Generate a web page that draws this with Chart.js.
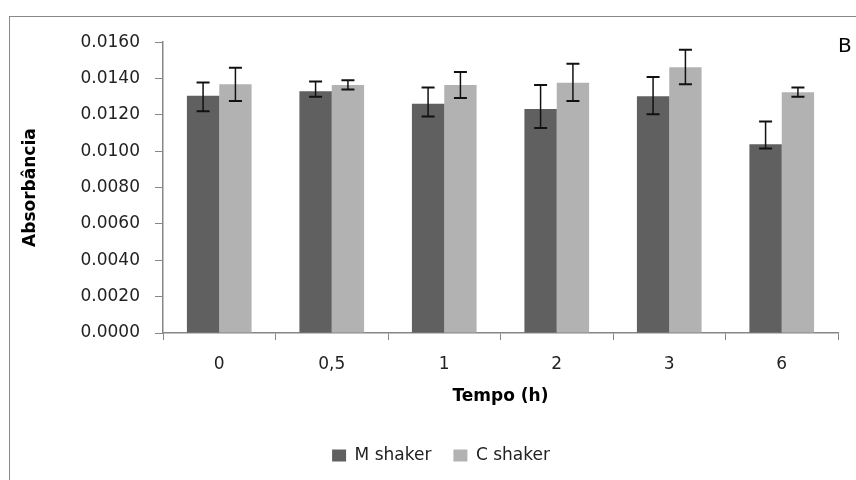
<!DOCTYPE html>
<html>
<head>
<meta charset="utf-8">
<script src="https://cdn.jsdelivr.net/npm/chart.js@4/dist/chart.umd.min.js"></script>
<style>
  html, body { margin: 0; padding: 0; background: #fff; width: 856px; height: 480px; overflow: hidden; }
  #frame { position: absolute; left: 9px; top: 16px; width: 864px; height: 472px;
           border-left: 1px solid #898989; border-top: 1px solid #898989; }
  canvas { display: block; }
</style>
</head>
<body>
<div id="frame"><canvas id="chart" width="864" height="472"></canvas></div>
<script>
// Tempo (h)
const categories = ['0', '0,5', '1', '2', '3', '6'];

// absorbância means
const mShaker = [0.01306, 0.01330, 0.01262, 0.01233, 0.01302, 0.01039];
const cShaker = [0.01369, 0.01364, 0.01364, 0.01377, 0.01462, 0.01324];

// error bars (above / below the mean)
const mErrUp   = [0.00072, 0.00054, 0.00089, 0.00131, 0.00107, 0.00125];
const mErrDown = [0.00086, 0.00030, 0.00071, 0.00105, 0.00098, 0.00024];
const cErrUp   = [0.00091, 0.00027, 0.00072, 0.00105, 0.00096, 0.00027];
const cErrDown = [0.00092, 0.00024, 0.00071, 0.00100, 0.00093, 0.00024];

const yMin = 0, yMax = 0.016, yStep = 0.002;

const axisGray = '#868686';
const sans = 'DejaVu Sans';

// draws the error bars on top of each bar
const errorBars = {
  id: 'errorBars',
  afterDatasetsDraw(chart) {
    const { ctx } = chart;
    const y = chart.scales.y;
    const errs = [[mErrUp, mErrDown], [cErrUp, cErrDown]];
    ctx.save();
    ctx.strokeStyle = '#111';
    chart.data.datasets.forEach((ds, i) => {
      const meta = chart.getDatasetMeta(i);
      meta.data.forEach((bar, j) => {
        const v = ds.data[j];
        const top = y.getPixelForValue(v + errs[i][0][j]);
        const bot = y.getPixelForValue(v - errs[i][1][j]);
        ctx.lineWidth = 1.5;
        ctx.beginPath();
        ctx.moveTo(bar.x, top);
        ctx.lineTo(bar.x, bot);
        ctx.stroke();
        ctx.lineWidth = 2;
        ctx.beginPath();
        ctx.moveTo(bar.x - 6.5, top);
        ctx.lineTo(bar.x + 6.5, top);
        ctx.moveTo(bar.x - 6.5, bot);
        ctx.lineTo(bar.x + 6.5, bot);
        ctx.stroke();
      });
    });
    ctx.restore();
  }
};

// panel letter in the corner
const panelLetter = {
  id: 'panelLetter',
  afterDraw(chart) {
    const { ctx } = chart;
    ctx.save();
    ctx.fillStyle = '#000';
    ctx.font = '20px "' + sans + '"';
    ctx.textBaseline = 'alphabetic';
    ctx.fillText('B', 828, 35);
    ctx.restore();
  }
};

new Chart(document.getElementById('chart'), {
  type: 'bar',
  data: {
    labels: categories,
    datasets: [
      { label: 'M shaker', data: mShaker, backgroundColor: '#606060' },
      { label: 'C shaker', data: cShaker, backgroundColor: '#b2b2b2' }
    ]
  },
  options: {
    responsive: false,
    animation: false,
    categoryPercentage: 0.575,
    barPercentage: 1,
    // left padding keeps the legend centred on the whole frame
    layout: { padding: { top: 23, right: 36, bottom: 15, left: 34 } },
    plugins: {
      tooltip: { enabled: false },
      legend: {
        position: 'bottom',
        labels: {
          boxWidth: 14,
          boxHeight: 12,
          padding: 22,
          color: '#222',
          font: { family: sans, size: 17 }
        }
      }
    },
    scales: {
      x: {
        grid: { drawOnChartArea: false, color: axisGray, tickLength: 7 },
        border: { color: axisGray, width: 1.5 },
        ticks: { color: '#222', padding: 14, font: { family: sans, size: 17 } },
        title: {
          display: true, text: 'Tempo (h)', color: '#000',
          font: { family: sans, size: 17, weight: 'bold' },
          padding: { top: 0, bottom: 18 }
        },
        afterFit(scale) { scale.height = 92; }
      },
      y: {
        min: yMin,
        max: yMax,
        grid: { drawOnChartArea: false, color: axisGray, tickLength: 8 },
        border: { color: axisGray, width: 1.5 },
        ticks: {
          stepSize: yStep,
          color: '#222',
          padding: 15,
          font: { family: sans, size: 17 },
          callback: v => v.toFixed(4)
        },
        title: {
          display: true, text: 'Absorbância', color: '#000',
          font: { family: sans, size: 17, weight: 'bold' },
          padding: { top: -24, bottom: 0 }
        },
        afterFit(scale) { scale.width = 119; }
      }
    }
  },
  plugins: [errorBars, panelLetter]
});
</script>
</body>
</html>
